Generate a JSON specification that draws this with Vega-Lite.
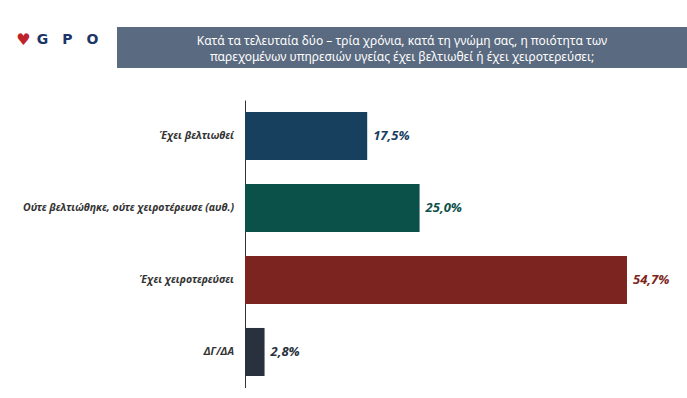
{
  "$schema": "https://vega.github.io/schema/vega-lite/v6.json",
  "padding": {"top": 27, "left": 0, "right": 0, "bottom": 0},
  "background": "white",
  "config": {
    "view": {"stroke": null},
    "locale": {"number": {"decimal": ",", "thousands": ".", "grouping": [3], "currency": ["", " €"]}},
    "concat": {"spacing": 0}
  },
  "spacing": 32,
  "vconcat": [
    {
      "hconcat": [
        {
          "width": 117,
          "height": 41,
          "data": {"values": [{"brand": "G\u2003P\u2003O", "heart": "♥"}]},
          "layer": [
            {"mark": {"type": "text", "dx": -35, "dy": -8, "fontSize": 16, "font": "DejaVu Sans", "color": "#c0222c", "baseline": "middle"}, "encoding": {"text": {"field": "heart"}}},
            {"mark": {"type": "text", "dx": 9, "dy": -8, "fontSize": 14, "fontWeight": "bold", "font": "DejaVu Sans", "color": "#1e3466", "baseline": "middle"}, "encoding": {"text": {"field": "brand"}}}
          ]
        },
        {
          "width": 570,
          "height": 41,
          "view": {"fill": "#5a6a80", "stroke": null},
          "data": {"values": [{"q": ["Κατά τα τελευταία δύο – τρία χρόνια, κατά τη γνώμη σας, η ποιότητα των", "παρεχομένων υπηρεσιών υγείας έχει βελτιωθεί ή έχει χειροτερεύσει;"]}]},
          "mark": {"type": "text", "color": "white", "fontSize": 12, "font": "Noto Sans", "lineHeight": 16, "baseline": "middle", "dy": -7},
          "encoding": {"text": {"field": "q"}}
        }
      ]
    },
    {
      "data": {"values": [
        {"answer": "Έχει βελτιωθεί", "share": 0.175},
        {"answer": "Ούτε βελτιώθηκε, ούτε χειροτέρευσε (αυθ.)", "share": 0.25},
        {"answer": "Έχει χειροτερεύσει", "share": 0.547},
        {"answer": "ΔΓ/ΔΑ", "share": 0.028}
      ]},
      "resolve": {"scale": {"y": "shared"}},
      "hconcat": [
        {
          "width": 245,
          "height": 288,
          "mark": {"type": "text", "align": "right", "baseline": "middle", "dx": 111.5, "color": "#333333", "font": "Noto Sans", "fontSize": 10.5, "fontStyle": "italic", "fontWeight": "bold"},
          "encoding": {
            "y": {"field": "answer", "type": "nominal", "sort": null, "scale": {"paddingInner": 0.333, "paddingOuter": 0.167}, "axis": null},
            "text": {"field": "answer"}
          }
        },
        {
          "width": 419,
          "height": 288,
          "encoding": {
            "y": {
              "field": "answer", "type": "nominal", "sort": null,
              "scale": {"paddingInner": 0.333, "paddingOuter": 0.167},
              "axis": {"title": null, "ticks": false, "labels": false, "domain": true, "domainColor": "#333333", "minExtent": 0, "maxExtent": 0}
            },
            "x": {"field": "share", "type": "quantitative", "scale": {"domain": [0, 0.6], "nice": false}, "axis": null},
            "color": {
              "field": "answer", "type": "nominal", "legend": null,
              "scale": {"domain": ["Έχει βελτιωθεί", "Ούτε βελτιώθηκε, ούτε χειροτέρευσε (αυθ.)", "Έχει χειροτερεύσει", "ΔΓ/ΔΑ"], "range": ["#17405f", "#0b5049", "#7c2520", "#28313d"]}
            }
          },
          "layer": [
            {"mark": {"type": "bar"}},
            {"mark": {"type": "text", "align": "left", "dx": 6, "baseline": "middle", "fontSize": 13, "font": "Noto Sans", "fontStyle": "italic", "fontWeight": "bold"},
             "encoding": {"text": {"field": "share", "type": "quantitative", "format": ".1%"}}}
          ]
        }
      ]
    }
  ]
}
